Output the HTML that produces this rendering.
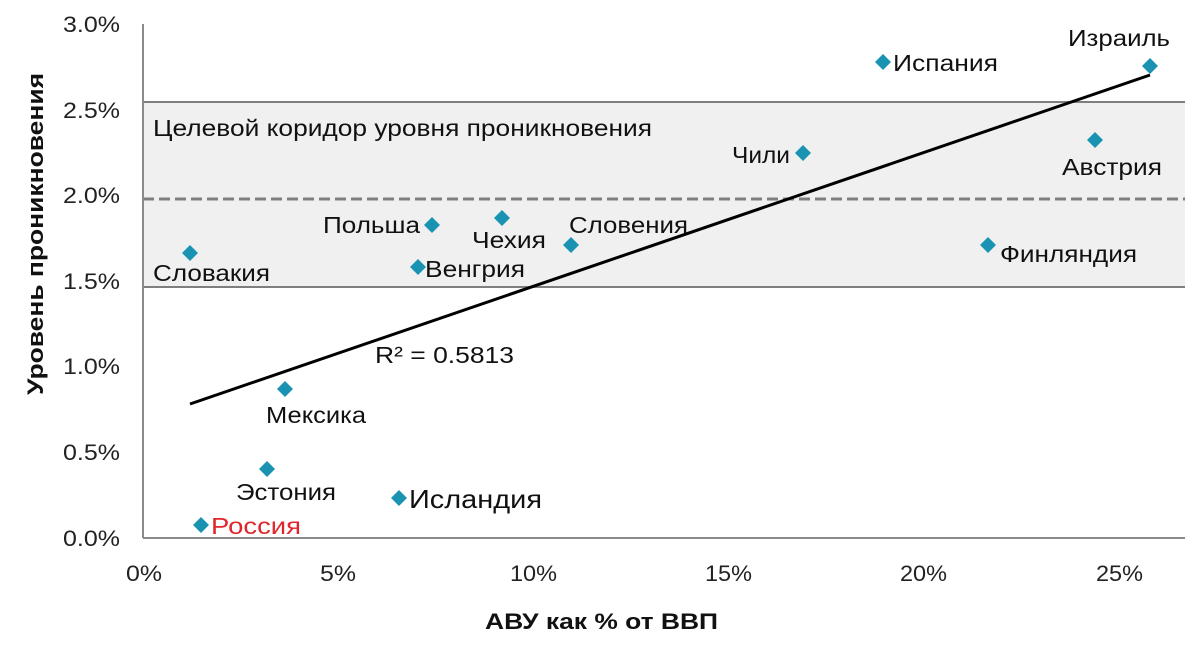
<!DOCTYPE html>
<html><head><meta charset="utf-8"><style>body{margin:0;background:#fff}</style></head><body>
<svg width="1200" height="647" xmlns="http://www.w3.org/2000/svg" font-family="Liberation Sans, sans-serif">
<rect width="1200" height="647" fill="#fff"/>
<rect x="143" y="102" width="1042" height="185" fill="#f0f0f0"/>
<line x1="143" y1="102" x2="1185" y2="102" stroke="#7f7f7f" stroke-width="2"/>
<line x1="143" y1="287" x2="1185" y2="287" stroke="#7f7f7f" stroke-width="2"/>
<line x1="143" y1="199" x2="1185" y2="199" stroke="#7f7f7f" stroke-width="3" stroke-dasharray="11,5"/>
<line x1="143" y1="24" x2="143" y2="538" stroke="#8a8a8a" stroke-width="2"/>
<line x1="143" y1="538" x2="1185" y2="538" stroke="#8a8a8a" stroke-width="2"/>
<g font-size="22" fill="#222" text-anchor="end">
<text x="120" y="32" textLength="57" lengthAdjust="spacingAndGlyphs">3.0%</text>
<text x="120" y="118" textLength="57" lengthAdjust="spacingAndGlyphs">2.5%</text>
<text x="120" y="203" textLength="57" lengthAdjust="spacingAndGlyphs">2.0%</text>
<text x="120" y="289" textLength="57" lengthAdjust="spacingAndGlyphs">1.5%</text>
<text x="120" y="374" textLength="57" lengthAdjust="spacingAndGlyphs">1.0%</text>
<text x="120" y="460" textLength="57" lengthAdjust="spacingAndGlyphs">0.5%</text>
<text x="120" y="546" textLength="57" lengthAdjust="spacingAndGlyphs">0.0%</text>
</g>
<g font-size="22" fill="#222">
<text x="126" y="581" textLength="36" lengthAdjust="spacingAndGlyphs">0%</text>
<text x="320" y="581" textLength="36" lengthAdjust="spacingAndGlyphs">5%</text>
<text x="510" y="581" textLength="47" lengthAdjust="spacingAndGlyphs">10%</text>
<text x="705" y="581" textLength="47" lengthAdjust="spacingAndGlyphs">15%</text>
<text x="900" y="581" textLength="47" lengthAdjust="spacingAndGlyphs">20%</text>
<text x="1096" y="581" textLength="47" lengthAdjust="spacingAndGlyphs">25%</text>
</g>
<text x="485" y="629" font-size="22" font-weight="bold" fill="#111" textLength="233" lengthAdjust="spacingAndGlyphs">АВУ как % от ВВП</text>
<text transform="translate(43,395) rotate(-90)" font-size="22" font-weight="bold" fill="#111" textLength="322" lengthAdjust="spacingAndGlyphs">Уровень проникновения</text>
<line x1="190" y1="404" x2="1150" y2="75" stroke="#000" stroke-width="3"/>
<g fill="#1a93b3">
<path d="M190 245l8 8-8 8-8-8z"/><path d="M201 517l8 8-8 8-8-8z"/><path d="M267 461l8 8-8 8-8-8z"/>
<path d="M285 381l8 8-8 8-8-8z"/><path d="M399 490l8 8-8 8-8-8z"/><path d="M418 259l8 8-8 8-8-8z"/>
<path d="M432 217l8 8-8 8-8-8z"/><path d="M502 210l8 8-8 8-8-8z"/><path d="M571 237l8 8-8 8-8-8z"/>
<path d="M803 145l8 8-8 8-8-8z"/><path d="M883 54l8 8-8 8-8-8z"/><path d="M988 237l8 8-8 8-8-8z"/>
<path d="M1095 132l8 8-8 8-8-8z"/><path d="M1150 58l8 8-8 8-8-8z"/>
</g>
<g font-size="23.5" fill="#111">
<text x="153" y="136" textLength="499" lengthAdjust="spacingAndGlyphs">Целевой коридор уровня проникновения</text>
<text x="153" y="281" textLength="117" lengthAdjust="spacingAndGlyphs">Словакия</text>
<text x="211" y="534" fill="#e0262b" textLength="90" lengthAdjust="spacingAndGlyphs">Россия</text>
<text x="236" y="500" textLength="100" lengthAdjust="spacingAndGlyphs">Эстония</text>
<text x="266" y="423" textLength="100" lengthAdjust="spacingAndGlyphs">Мексика</text>
<text x="409" y="508" font-size="26" textLength="133" lengthAdjust="spacingAndGlyphs">Исландия</text>
<text x="425" y="277" textLength="100" lengthAdjust="spacingAndGlyphs">Венгрия</text>
<text x="323" y="233" textLength="97" lengthAdjust="spacingAndGlyphs">Польша</text>
<text x="472" y="248" textLength="74" lengthAdjust="spacingAndGlyphs">Чехия</text>
<text x="569" y="233" textLength="119" lengthAdjust="spacingAndGlyphs">Словения</text>
<text x="732" y="163" textLength="58" lengthAdjust="spacingAndGlyphs">Чили</text>
<text x="893" y="71" textLength="105" lengthAdjust="spacingAndGlyphs">Испания</text>
<text x="1000" y="262" textLength="137" lengthAdjust="spacingAndGlyphs">Финляндия</text>
<text x="1062" y="175" textLength="100" lengthAdjust="spacingAndGlyphs">Австрия</text>
<text x="1068" y="46" textLength="102" lengthAdjust="spacingAndGlyphs">Израиль</text>
<text x="375" y="363" textLength="139" lengthAdjust="spacingAndGlyphs">R² = 0.5813</text>
</g>
</svg>
</body></html>
